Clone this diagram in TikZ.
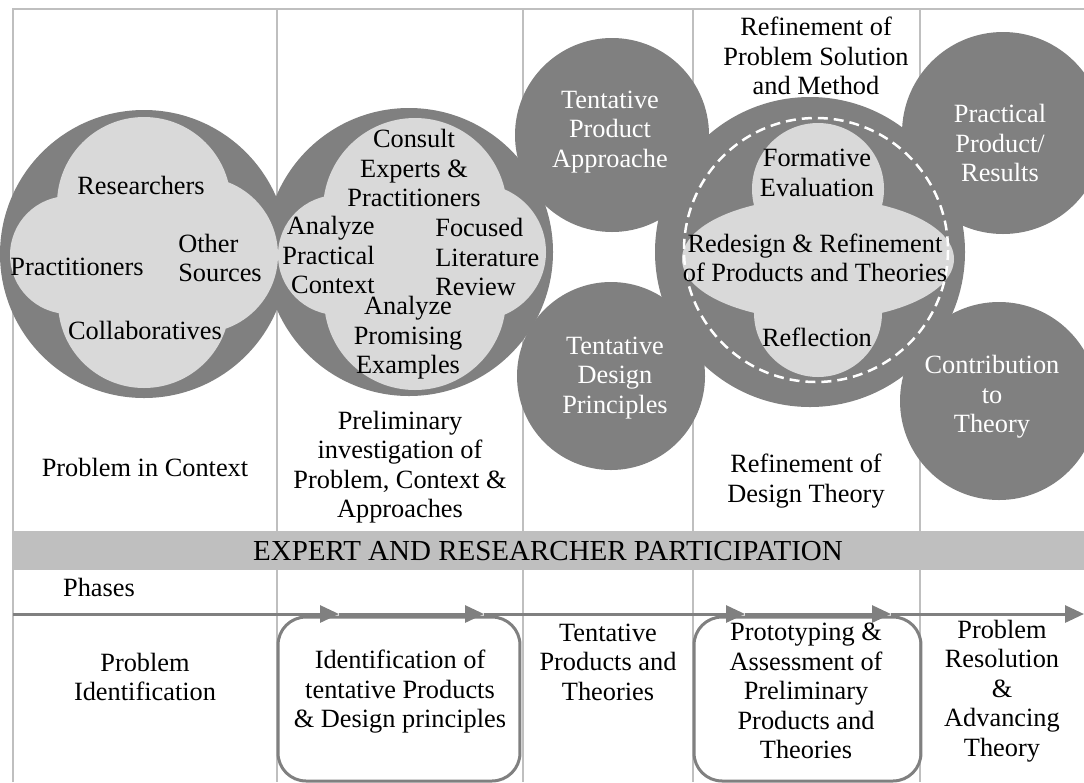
\documentclass[tikz,border=0pt]{standalone}
\usepackage{fontspec}
\setmainfont{Liberation Serif}
\usetikzlibrary{arrows.meta}

\definecolor{darkgrey}{HTML}{808080}
\definecolor{cloudgrey}{HTML}{D9D9D9}
\definecolor{bandgrey}{HTML}{BFBFBF}
\definecolor{rulegrey}{HTML}{BFBFBF}

\tikzset{
	txt/.style={align=center, inner sep=0pt, font=\fontsize{15}{16.8}\selectfont},
	whitetxt/.style={txt, text=white},
	darkdisc/.style={fill=darkgrey},
	cloudfill/.style={fill=cloudgrey},
	rule/.style={draw=rulegrey, line width=0.04cm},
	phasebox/.style={draw=darkgrey, line width=0.06cm, rounded corners=0.56cm, inner sep=0pt},
	phasearrow/.style={draw=darkgrey, line width=0.06cm, -{Triangle[length=0.38cm,width=0.34cm]}}
}

\begin{document}
\begin{tikzpicture}[x=0.02cm, y=-0.02cm]
			\useasboundingbox (0,0) rectangle (1084,782);
			
			% Table rules
			\draw[rule] (13,782) -- (13,9) -- (1084,9);
			\foreach \cx in {277,523,693,920}
			\draw[rule] (\cx,9) -- (\cx,782);
			
			% Dark circles
			\fill[darkdisc] (144,254) circle[radius=144];
			\fill[darkdisc] (409,252) circle[radius=144];
			\fill[darkdisc] (612,135) circle[radius=97];
			\fill[darkdisc] (611,376) circle[radius=94];
			\fill[darkdisc] (810,252) circle[radius=155];
			\fill[darkdisc] (1003,133) circle[radius=101];
			\fill[darkdisc] (999,401) circle[radius=99];
			
			% Light clouds inside the circles
			\fill[cloudfill] (144,204) circle[radius=87] (144,302) circle[radius=86]
			(69,255) circle[radius=59] (200,255) circle[radius=78];
			\fill[cloudfill] (415,210) circle[radius=92] (415,299) circle[radius=91]
			(338,255) circle[radius=60] (478,252) circle[radius=68];
			\fill[cloudfill] (818,259) ellipse[x radius=136, y radius=61]
			(818,189) circle[radius=66] (818,313) circle[radius=64];
			
			% Dashed ring of the refinement cycle
			\draw[white, line width=0.05cm, dash pattern=on 0.2cm off 0.12cm] (816,250) circle[radius=132];
			
			% Texts in the first circle
			\node[txt] (researchers) at (141,185) {Researchers};
			\node[txt] (practitioners) at (77,267) {Practitioners};
			\node[txt, align=left] (othersrc) at (220,258) {Other\\Sources};
			\node[txt] (collab) at (145,330) {Collaboratives};
			
			% Texts in the second circle
			\node[txt] (consult) at (414,168) {Consult\\Experts \&\\Practitioners};
			\node[txt, align=right, anchor=east] (anapract) at (375,255) {Analyze\\Practical\\Context};
			\node[txt, align=left, anchor=west] (litrev) at (435,257) {Focused\\Literature\\Review};
			\node[txt] (anaprom) at (408,338) {Analyze\\Promising\\Examples};
			
			% Tentative products and principles
			\node[whitetxt] (tentprod) at (610,132) {Tentative\\Product\\Approache};
			\node[whitetxt] (tentdes) at (615,378) {Tentative\\Design\\Principles};
			
			% Refinement cycle
			\node[txt] (refprob) at (816,56) {Refinement of\\Problem Solution\\and Method};
			\node[txt] (formeval) at (817,173) {Formative\\Evaluation};
			\node[txt] (redesign) at (815,258) {Redesign \& Refinement\\of Products and Theories};
			\node[txt] (reflect) at (817,337) {Reflection};
			
			% Outcomes
			\node[whitetxt] (practprod) at (1000,143) {Practical\\Product/\\Results};
			\node[whitetxt] (contrib) at (992,397) {Contribution\\to\\Theory};
			
			% Column captions
			\node[txt] (probctx) at (145,467) {Problem in Context};
			\node[txt] (prelim) at (400,467) {Preliminary\\investigation of\\Problem, Context \&\\Approaches};
			\node[txt] (refdes) at (806,481) {Refinement of\\Design Theory};
			
			% Participation band
			\fill[bandgrey] (13,531) rectangle (1084,570);
			\node[txt, font=\fontsize{16.5}{18}\selectfont] (band) at (548,551) {EXPERT AND RESEARCHER PARTICIPATION};
			
			% Phases arrow
			\node[txt] (phases) at (99,587) {Phases};
			\coordinate (a0) at (13,614);
			\coordinate (a1) at (339,614);
			\coordinate (a2) at (484,614);
			\coordinate (a3) at (745,614);
			\coordinate (a4) at (891,614);
			\coordinate (a5) at (1084,614);
			\foreach \s/\e in {a0/a1,a1/a2,a2/a3,a3/a4,a4/a5}
			\draw[phasearrow] (\s) -- (\e);
			
			% Phase boxes
			\node[phasebox, minimum width=4.84cm, minimum height=3.28cm] (identbox) at (399,699) {};
			\node[phasebox, minimum width=4.54cm, minimum height=3.28cm] (protobox) at (807.5,699) {};
			
			% Phase names
			\node[txt] (probid) at (145,677) {Problem\\Identification};
			\node[txt] (identtent) at (400,692) {Identification of\\tentative Products\\\& Design principles};
			\node[txt] (tentprods) at (608,662) {Tentative\\Products and\\Theories};
			\node[txt] (proto) at (806,691) {Prototyping \&\\Assessment of\\Preliminary\\Products and\\Theories};
			\node[txt] (probres) at (1002,691) {Problem\\Resolution\\\&\\Advancing\\Theory};
			
		\end{tikzpicture}
\end{document}
